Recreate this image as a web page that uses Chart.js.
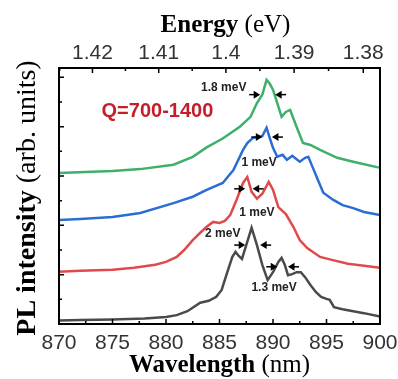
<!DOCTYPE html>
<html>
<head>
<meta charset="utf-8">
<script src="https://cdn.jsdelivr.net/npm/chart.js@4"></script>
<style>
  html, body { margin: 0; padding: 0; background: #fff; }
</style>
</head>
<body>
<canvas id="plChart" width="398" height="379"></canvas>
<script>
// wavelength (nm) / PL intensity (arb. units, offset curves)
const grayWl = [870, 872, 875, 878, 880, 881, 882, 883.2, 884, 884.7, 885.2, 885.7, 886.2, 886.5, 886.8, 887.1, 887.5, 888.0, 888.5, 889.0, 889.5, 890.0, 890.5, 890.8, 891.1, 891.4, 891.8, 892.2, 892.6, 893.0, 893.5, 894.0, 894.5, 895.0, 895.3, 895.7, 896.5, 897.5, 898.5, 900];
const grayPL = [0.7, 0.8, 0.9, 1.1, 1.4, 1.8, 2.6, 4.3, 4.7, 5.5, 6.9, 10.3, 13.6, 14.6, 13.8, 13.2, 16.0, 19.5, 16.0, 12.0, 8.9, 10.5, 12.6, 13.4, 12.0, 9.9, 10.1, 10.5, 10.5, 9.5, 7.9, 6.5, 5.5, 5.1, 4.9, 3.4, 3.0, 2.6, 2.2, 1.5];

const redWl = [870, 872, 875, 877, 879, 880, 881, 881.7, 882.5, 883.2, 883.8, 884.4, 885.0, 885.5, 886.0, 886.6, 887.2, 887.6, 888.0, 888.5, 889.0, 889.3, 889.6, 890.0, 890.5, 891.2, 891.9, 892.5, 893.2, 894.4, 895.5, 897, 898.5, 900];
const redPL = [10.6, 10.8, 11.0, 11.4, 12.0, 12.6, 13.6, 15.0, 17.0, 18.5, 19.7, 20.7, 20.5, 20.9, 22.1, 25.2, 28.6, 29.8, 26.8, 25.4, 26.4, 27.6, 28.8, 27.2, 23.7, 22.3, 19.7, 17.0, 15.4, 13.6, 13.0, 12.2, 11.8, 11.4];

const blueWl = [870, 872, 875, 877.6, 880.7, 882.5, 883.8, 885.3, 886.3, 887.2, 887.6, 888.1, 888.6, 889.0, 889.4, 889.7, 890.0, 890.4, 890.9, 891.3, 891.8, 892.5, 893.0, 893.3, 893.7, 894.2, 894.7, 895.6, 896.5, 897.5, 898.5, 900];
const bluePL = [21.1, 21.3, 21.7, 22.5, 24.5, 25.8, 27.2, 28.6, 31.2, 35.3, 36.7, 37.7, 37.9, 38.1, 39.8, 37.7, 35.7, 33.9, 34.3, 33.3, 34.1, 32.9, 33.7, 33.9, 31.8, 29.2, 26.6, 25.2, 24.1, 23.5, 22.7, 22.1];

const greenWl = [870, 872.5, 875, 877.6, 880.7, 882.5, 883.8, 885.3, 886.9, 887.9, 888.5, 889.0, 889.4, 889.7, 890.0, 890.4, 890.8, 891.2, 891.6, 892.2, 892.8, 893.5, 894.4, 896.0, 897.5, 899.7, 900];
const greenPL = [30.6, 30.8, 31.0, 31.4, 32.3, 33.9, 35.8, 37.6, 40.0, 42.0, 44.8, 46.5, 49.5, 48.7, 47.5, 44.8, 42.0, 43.0, 43.4, 40.0, 36.7, 36.3, 35.3, 33.7, 32.9, 31.8, 31.7];

// top axis
const HC = 1239.84;
const energyTicks = [1.42, 1.41, 1.40, 1.39, 1.38];
const energyLabels = ['1.42', '1.41', '1.4', '1.39', '1.38'];

// linewidth annotations
const noteText = ['1.8 meV', '1 meV', '1 meV', '2 meV', '1.3 meV'];
const noteWl = [885.4, 888.7, 888.5, 885.3, 890.1];
const notePL = [47.9, 32.7, 22.5, 18.3, 7.3];
const arrowTips = [[888.8, 890.2], [889.0, 889.9], [887.4, 888.1], [887.4, 888.8], [890.4, 891.4]];
const arrowPL = [46.5, 37.9, 27.4, 16.0, 11.6];
const qLabel = 'Q=700-1400';
const qWl = 879.2, qPL = 43.0;

function pts(xs, ys) {
    return xs.map((x, i) => ({ x: x, y: ys[i] }));
}

function drawMixed(ctx, parts, cx, cy) {
    let total = 0;
    parts.forEach(p => { ctx.font = p.font; total += ctx.measureText(p.text).width; });
    let x = cx - total / 2;
    parts.forEach(p => {
        ctx.font = p.font;
        ctx.fillText(p.text, x, cy);
        x += ctx.measureText(p.text).width;
    });
}

const decor = {
    id: 'decor',
    afterDatasetsDraw(chart) {
        const { ctx, chartArea: a, scales } = chart;
        const xs = scales.x, ys = scales.y;
        ctx.save();

        // frame
        ctx.strokeStyle = '#000';
        ctx.lineWidth = 2;
        ctx.strokeRect(a.left, a.top, a.right - a.left, a.bottom - a.top);

        // inward ticks
        ctx.lineWidth = 1.5;
        ctx.beginPath();
        for (let w = 870; w <= 900; w += 2.5) {
            const px = xs.getPixelForValue(w);
            const len = (w % 5 === 0) ? 5 : 3;
            ctx.moveTo(px, a.bottom); ctx.lineTo(px, a.bottom - len);
        }
        for (let e = 1.38; e <= 1.4251; e += 0.005) {
            const wl = HC / e;
            if (wl < 870 || wl > 900) continue;
            const px = xs.getPixelForValue(wl);
            const major = Math.abs(Math.round(e * 100) - e * 100) < 0.01;
            ctx.moveTo(px, a.top); ctx.lineTo(px, a.top + (major ? 5 : 3));
        }
        for (let v = 0; v <= ys.max; v += 5) {
            const py = ys.getPixelForValue(v);
            ctx.moveTo(a.left, py); ctx.lineTo(a.left + (v % 10 === 0 ? 5 : 3), py);
        }
        ctx.stroke();

        // arrows
        ctx.fillStyle = '#000';
        ctx.lineWidth = 1.5;
        arrowTips.forEach((pair, i) => {
            const py = ys.getPixelForValue(arrowPL[i]);
            pair.forEach((wl, j) => {
                const tip = xs.getPixelForValue(wl);
                const d = j === 0 ? 1 : -1;
                ctx.beginPath();
                ctx.moveTo(tip - d * 11, py); ctx.lineTo(tip - d * 3, py);
                ctx.stroke();
                ctx.beginPath();
                ctx.moveTo(tip, py);
                ctx.lineTo(tip - d * 6.5, py - 4);
                ctx.lineTo(tip - d * 6.5, py + 4);
                ctx.closePath();
                ctx.fill();
            });
        });

        // labels
        ctx.textAlign = 'center';
        ctx.textBaseline = 'middle';
        ctx.fillStyle = '#222';
        ctx.font = 'bold 12px "Liberation Sans", Arial, sans-serif';
        noteText.forEach((t, i) => {
            ctx.fillText(t, xs.getPixelForValue(noteWl[i]), ys.getPixelForValue(notePL[i]));
        });
        ctx.fillStyle = '#c41e2a';
        ctx.font = 'bold 20px "Liberation Sans", Arial, sans-serif';
        ctx.fillText(qLabel, xs.getPixelForValue(qWl), ys.getPixelForValue(qPL));
        ctx.restore();
    },
    afterDraw(chart) {
        const { ctx, chartArea: a } = chart;
        const bold = 'bold 25px "Liberation Serif", "Times New Roman", serif';
        const reg = '25px "Liberation Serif", "Times New Roman", serif';
        ctx.save();
        ctx.fillStyle = '#000';
        ctx.textAlign = 'left';
        ctx.textBaseline = 'alphabetic';
        const cx = (a.left + a.right) / 2;
        drawMixed(ctx, [{ text: 'Energy ', font: bold }, { text: '(eV)', font: reg }], cx + 6, 32);
        drawMixed(ctx, [{ text: 'Wavelength ', font: bold }, { text: '(nm)', font: reg }], cx, 372);
        ctx.translate(35, 198);
        ctx.rotate(-Math.PI / 2);
        drawMixed(ctx, [
            { text: 'PL intensity ', font: 'bold 28px "Liberation Serif", "Times New Roman", serif' },
            { text: '(arb. units)', font: '28px "Liberation Serif", "Times New Roman", serif' }
        ], 0, 0);
        ctx.restore();
    }
};

const tickFont = { family: '"Liberation Sans", Arial, sans-serif', size: 21 };

new Chart(document.getElementById('plChart'), {
    type: 'line',
    data: {
        datasets: [
            { data: pts(greenWl, greenPL), borderColor: '#3faf6b' },
            { data: pts(blueWl, bluePL), borderColor: '#2b6dd4' },
            { data: pts(redWl, redPL), borderColor: '#e04a4c' },
            { data: pts(grayWl, grayPL), borderColor: '#4a4a4a' }
        ]
    },
    options: {
        responsive: false,
        animation: false,
        layout: { padding: { left: 0, right: 18, top: 0, bottom: 0 } },
        plugins: { legend: { display: false }, tooltip: { enabled: false } },
        elements: {
            point: { radius: 0 },
            line: { borderWidth: 2.5, tension: 0, fill: false }
        },
        scales: {
            x: {
                type: 'linear', position: 'bottom', min: 870, max: 900,
                afterFit: s => { s.height = 55; s.paddingLeft = 0; s.paddingRight = 0; },
                grid: { display: false, drawTicks: false },
                border: { display: false },
                ticks: { stepSize: 5, padding: 7, color: '#333', font: tickFont, maxRotation: 0, autoSkip: false }
            },
            x2: {
                type: 'linear', position: 'top', min: 870, max: 900,
                afterBuildTicks: s => { s.ticks = energyTicks.map(e => ({ value: HC / e })); },
                afterFit: s => { s.height = 68; s.paddingLeft = 0; s.paddingRight = 0; },
                grid: { display: false, drawTicks: false },
                border: { display: false },
                ticks: {
                    padding: 2, color: '#333', font: tickFont, maxRotation: 0, autoSkip: false,
                    callback: (v, i) => energyLabels[i]
                }
            },
            y: {
                min: 0, max: 51.9,
                afterFit: s => { s.width = 59; s.paddingTop = 0; s.paddingBottom = 0; },
                grid: { display: false, drawTicks: false },
                border: { display: false },
                ticks: { display: false }
            }
        }
    },
    plugins: [decor]
});
</script>
</body>
</html>
